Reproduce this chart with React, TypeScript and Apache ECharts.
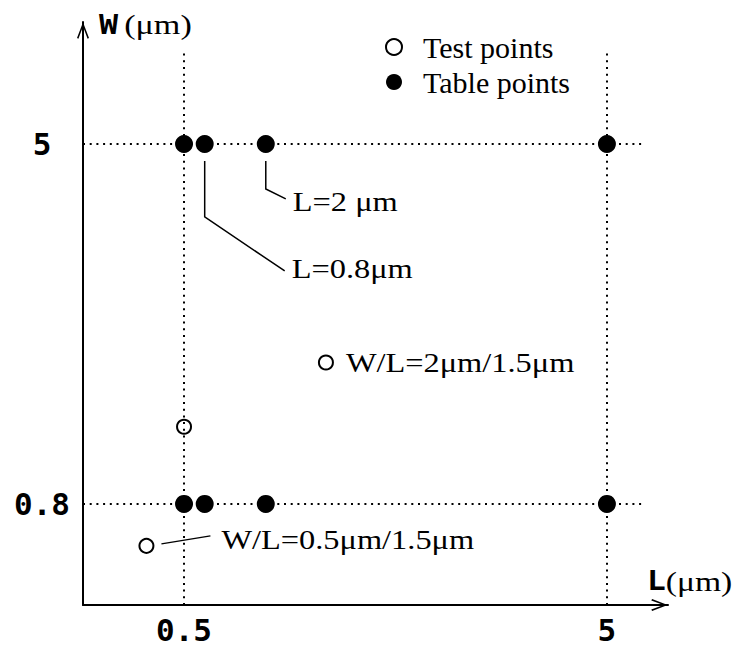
import React, { useEffect, useRef } from 'react';
import * as echarts from 'echarts';

// Axis tick labels (schematic axes)
const L_TICKS = [0.5, 5];
const W_TICKS = [0.8, 5];

// Table points (grid of L positions x W rows)
const TABLE_L = [0.5, 0.72, 1.37, 5];
const TABLE_W = [5, 0.8];

// Test points
const TEST_L = [0.5, 2.01, 0.1];
const TEST_W = [1.7, 2.45, 0.31];

// Axis extents
const L_RANGE = [-0.575, 5.65];
const W_RANGE = [-0.38, 6.423];
const GUIDE_L_END = 5.4;
const GUIDE_W_END = 6.1;

// Callout labels attached to points
const CALLOUT_TEXT = ['L=2 μm', 'L=0.8μm', 'W/L=2μm/1.5μm', 'W/L=0.5μm/1.5μm'];
const CALLOUT_POINT: [number, number][] = [
  [TABLE_L[2], TABLE_W[0]],
  [TABLE_L[1], TABLE_W[0]],
  [TEST_L[1], TEST_W[1]],
  [TEST_L[2], TEST_W[2]],
];
// pixel offsets for leader lines and text relative to the point (style only)
const CALLOUT_PATH: number[][][] = [
  [[0, 17], [0, 45], [20, 55]],
  [[0, 17], [0, 73], [80, 127]],
  [],
  [[15, -2], [64, -10]],
];
const CALLOUT_TEXT_OFFSET: number[][] = [
  [27, 58],
  [87, 125],
  [20, 0],
  [75, -6],
];

const SERIF = 'Liberation Serif';
const MONO = 'DejaVu Sans Mono';
const ARROW = 'path://M6,0 L12,15.6 L10.6,16.4 L6,4.2 L1.4,16.4 L0,15.6 Z';

export default function App() {
  const ref = useRef<HTMLDivElement>(null);
  useEffect(() => {
    if (!ref.current) return;
    const chart = echarts.init(ref.current, undefined, { renderer: 'svg' });
    const tableData: number[][] = [];
    TABLE_W.forEach((w) => TABLE_L.forEach((l) => tableData.push([l, w])));
    const testData = TEST_L.map((l, i) => [l, TEST_W[i]]);

    const guideStyle = { type: [2, 4.7], color: '#000', width: 2 };
    const guides: any[] = [];
    L_TICKS.forEach((l) =>
      guides.push([{ coord: [l, W_RANGE[0]] }, { coord: [l, GUIDE_W_END] }])
    );
    W_TICKS.forEach((w) =>
      guides.push([{ coord: [L_RANGE[0], w] }, { coord: [GUIDE_L_END, w] }])
    );

    const axisLine = {
      onZero: false,
      symbol: ['none', ARROW],
      symbolSize: [12, 17],
      symbolOffset: [0, -8.5],
      lineStyle: { color: '#000', width: 2 },
    };

    chart.setOption({
      animation: false,
      backgroundColor: '#fff',
      grid: { left: 83, right: 74, top: 22, bottom: 35 },
      xAxis: {
        type: 'value',
        min: L_RANGE[0],
        max: L_RANGE[1],
        axisLine,
        axisTick: { show: false },
        splitLine: { show: false },
        axisLabel: {
          customValues: L_TICKS,
          formatter: (v: number) => String(v),
          fontFamily: MONO,
          fontWeight: 'bold',
          fontSize: 31,
          color: '#000',
          margin: 9,
        },
      },
      yAxis: {
        type: 'value',
        min: W_RANGE[0],
        max: W_RANGE[1],
        axisLine,
        axisTick: { show: false },
        splitLine: { show: false },
        axisLabel: {
          customValues: W_TICKS,
          formatter: (v: number) => String(v),
          fontFamily: MONO,
          fontWeight: 'bold',
          fontSize: 31,
          color: '#000',
          align: 'center',
          margin: 41,
        },
      },
      legend: {
        data: ['Test points', 'Table points'],
        orient: 'vertical',
        left: 380,
        top: 27,
        itemWidth: 16,
        itemHeight: 16,
        itemGap: 5,
        icon: 'circle',
        textStyle: {
          fontFamily: SERIF,
          fontSize: 30,
          color: '#000',
          padding: [0, 0, 0, 16],
        },
      },
      series: [
        {
          name: 'guides',
          type: 'scatter',
          data: [],
          z: 1,
          markLine: {
            silent: true,
            symbol: ['none', 'none'],
            label: { show: false },
            lineStyle: guideStyle,
            data: guides,
          },
        },
        {
          name: 'Test points',
          type: 'scatter',
          data: testData,
          symbol: 'circle',
          symbolSize: 14,
          z: 3,
          itemStyle: { color: '#fff', borderColor: '#000', borderWidth: 2, opacity: 1 },
        },
        {
          name: 'Table points',
          type: 'scatter',
          data: tableData,
          symbol: 'circle',
          symbolSize: 18,
          z: 3,
          itemStyle: { color: '#000', opacity: 1 },
        },
      ],
    });

    const graphics: any[] = [];
    CALLOUT_TEXT.forEach((t, i) => {
      const p = chart.convertToPixel({ xAxisIndex: 0, yAxisIndex: 0 }, CALLOUT_POINT[i]) as number[];
      const path = CALLOUT_PATH[i];
      if (path.length) {
        graphics.push({
          type: 'polyline',
          silent: true,
          shape: { points: path.map((o) => [p[0] + o[0], p[1] + o[1]]) },
          style: { stroke: '#000', lineWidth: 1.5, fill: null },
        });
      }
      const o = CALLOUT_TEXT_OFFSET[i];
      graphics.push({
        type: 'text',
        silent: true,
        x: p[0] + o[0],
        y: p[1] + o[1],
        scaleX: 1.2,
        style: {
          text: t,
          fontFamily: SERIF,
          fontSize: 27,
          fill: '#000',
          verticalAlign: 'middle',
          align: 'left',
        },
      });
    });
    // axis titles
    const titleRich = (gap: number) => ({
      b: { fontFamily: MONO, fontWeight: 'bold', fontSize: 26, fill: '#000' },
      s: { fontFamily: SERIF, fontSize: 28, fill: '#000', padding: [0, 0, 0, gap] },
    });
    graphics.push({
      type: 'text',
      silent: true,
      x: 99,
      y: 25,
      scaleX: 1.22,
      style: { text: '{b|W}{s|(μm)}', verticalAlign: 'middle', rich: titleRich(5) },
    });
    graphics.push({
      type: 'text',
      silent: true,
      x: 647,
      y: 581,
      scaleX: 1.2,
      style: { text: '{b|L}{s|(μm)}', verticalAlign: 'middle', rich: titleRich(0) },
    });
    chart.setOption({ graphic: graphics });

    return () => chart.dispose();
  }, []);
  return (
    <div
      ref={ref}
      style={{ position: 'fixed', left: 0, top: 0, width: 742, height: 645, background: '#fff' }}
    />
  );
}
